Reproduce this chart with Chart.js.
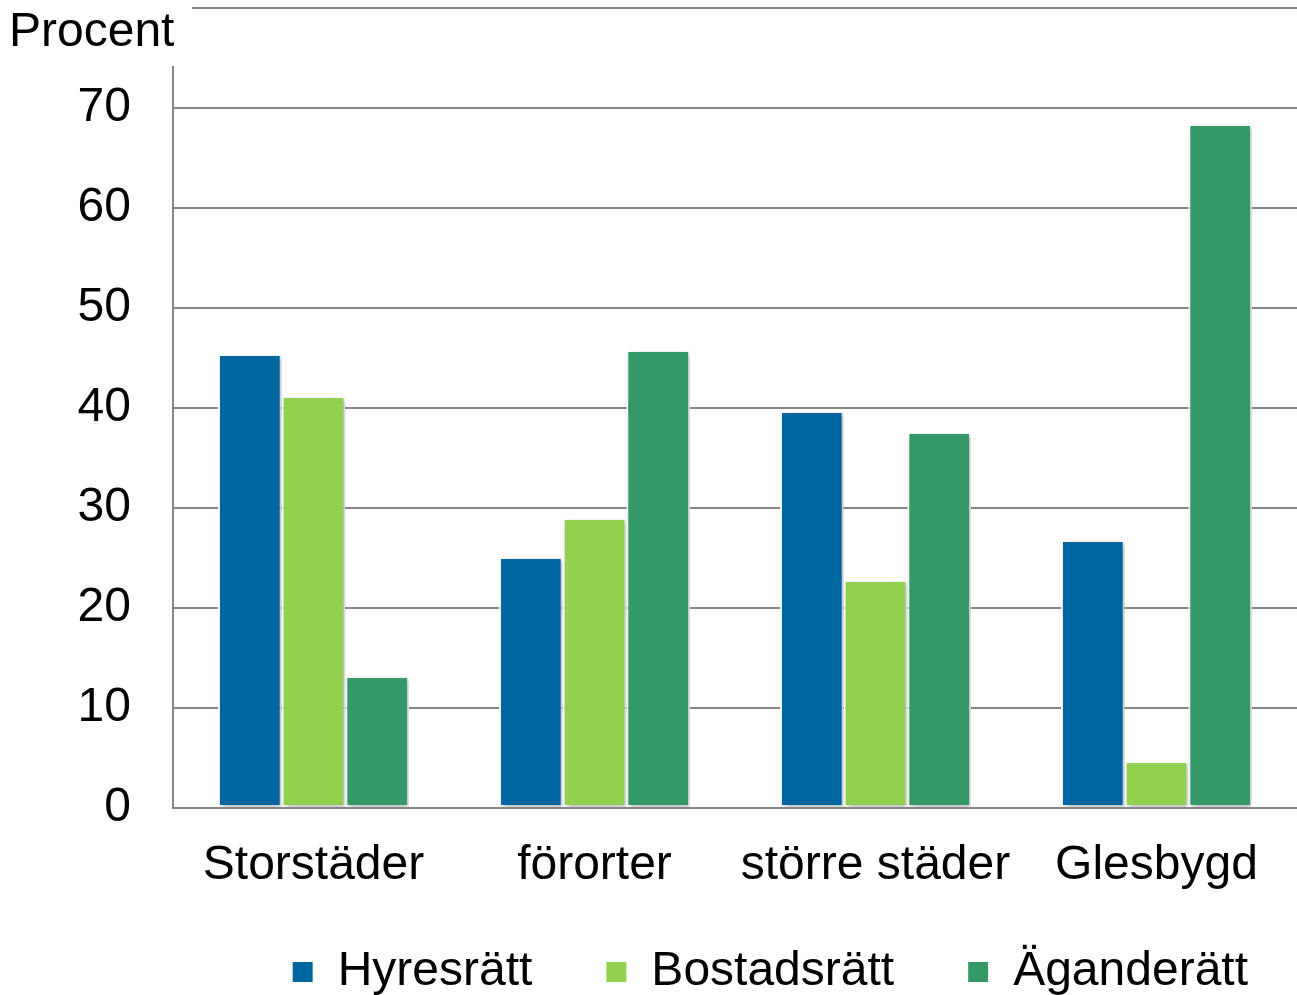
<!DOCTYPE html>
<html>
<head>
<meta charset="utf-8">
<script src="https://cdn.jsdelivr.net/npm/chart.js@4"></script>
<style>
    body { margin: 0; background: #fff; }
    #wrap { width: 1297px; height: 995px; }
</style>
</head>
<body>
<div id="wrap"><canvas id="chart-area" width="1297" height="995"></canvas></div>
<script>
var categories = ['Storstäder', 'förorter', 'större städer', 'Glesbygd'];
var hyresratt = [45.4, 25.1, 39.7, 26.8];
var bostadsratt = [41.2, 29.0, 22.8, 4.7];
var aganderatt = [13.2, 45.8, 37.6, 68.4];
var yTicks = [0, 10, 20, 30, 40, 50, 60, 70, 80];

var font = 'Liberation Sans, Arial, sans-serif';

// shadow behind the bars
var barShadow = {
    id: 'barShadow',
    beforeDatasetsDraw: function (chart) {
        var ctx = chart.ctx;
        ctx.save();
        ctx.shadowColor = 'rgba(0,0,0,0.3)';
        ctx.shadowBlur = 5;
        ctx.shadowOffsetX = 2;
        ctx.shadowOffsetY = 2;
    },
    afterDatasetsDraw: function (chart) {
        chart.ctx.restore();
    }
};

// move the legend a bit right and up
var legendShift = {
    id: 'legendShift',
    afterLayout: function (chart) {
        var leg = chart.legend;
        leg.left += 24;
        leg.right += 24;
        leg.top -= 30;
        leg.bottom -= 30;
    }
};

// "Procent" label top left, covers the corner of the frame
var procent = {
    id: 'procent',
    afterDraw: function (chart) {
        var ctx = chart.ctx;
        ctx.save();
        ctx.fillStyle = '#fff';
        ctx.fillRect(0, 0, 192, 66);
        ctx.fillStyle = '#000';
        ctx.font = '48px ' + font;
        ctx.textBaseline = 'alphabetic';
        ctx.fillText('Procent', 9, 46);
        ctx.restore();
    }
};

function makeDataset(label, data, color) {
    return {
        label: label,
        data: data,
        backgroundColor: color,
        borderColor: '#fff',
        borderWidth: 2,
        borderSkipped: false,
        categoryPercentage: 0.68,
        barPercentage: 1.0
    };
}

var config = {
    type: 'bar',
    data: {
        labels: categories,
        datasets: [
            makeDataset('Hyresrätt', hyresratt, '#0066A1'),
            makeDataset('Bostadsrätt', bostadsratt, '#92D050'),
            makeDataset('Äganderätt', aganderatt, '#339966')
        ]
    },
    options: {
        responsive: false,
        animation: false,
        layout: { padding: { top: 8, right: 0, left: 0, bottom: -41 } },
        plugins: {
            title: { display: false },
            tooltip: { enabled: false },
            legend: {
                position: 'bottom',
                align: 'end',
                labels: {
                    color: '#000',
                    font: { family: font, size: 48 },
                    boxWidth: 22,
                    boxHeight: 22,
                    padding: 73
                }
            }
        },
        scales: {
            x: {
                grid: { display: false, drawTicks: false },
                border: { display: true, color: '#868686', width: 2 },
                ticks: {
                    color: '#000',
                    font: { family: font, size: 48 },
                    padding: 29,
                    maxRotation: 0
                },
                afterFit: function (axis) {
                    axis.height = 97;
                    axis.paddingLeft = 0;
                    axis.paddingRight = 0;
                }
            },
            y: {
                min: 0,
                max: 80,
                afterBuildTicks: function (axis) {
                    axis.ticks = yTicks.map(function (v) { return { value: v }; });
                },
                grid: { color: '#868686', lineWidth: 2, drawTicks: false },
                border: { display: true, color: '#868686', width: 2 },
                ticks: {
                    color: '#000',
                    font: { family: font, size: 48 },
                    padding: 42,
                    callback: function (v) { return v === 80 ? '' : v; }
                },
                afterFit: function (axis) {
                    axis.width = 173;
                    axis.paddingTop = 0;
                    axis.paddingBottom = 0;
                }
            }
        }
    },
    plugins: [barShadow, legendShift, procent]
};

var ctx = document.getElementById('chart-area').getContext('2d');
var myBar = new Chart(ctx, config);
</script>
</body>
</html>
